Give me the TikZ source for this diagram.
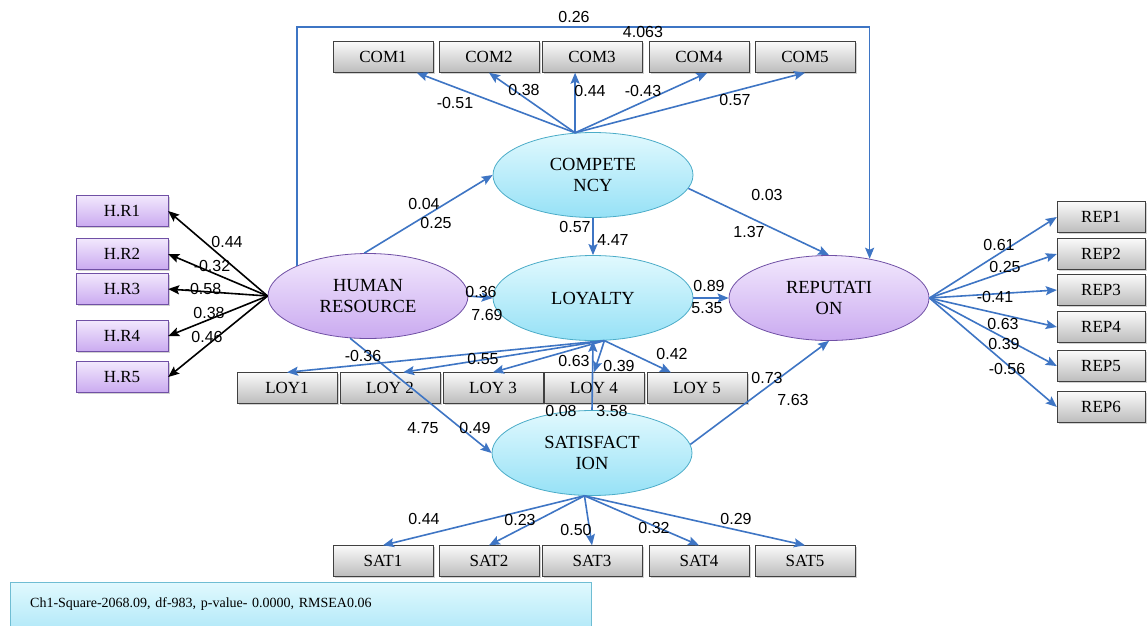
\documentclass[tikz,border=0pt]{standalone}
\usepackage{fontspec}
\setmainfont{Liberation Serif}
\newfontfamily\numfont{Liberation Sans}
\usetikzlibrary{arrows.meta,shapes.geometric,shadows}

\definecolor{arrblue}{RGB}{62,117,196}
\definecolor{lavtop}{RGB}{242,232,253}
\definecolor{lavbot}{RGB}{202,170,240}
\definecolor{lavline}{RGB}{112,80,165}
\definecolor{cyantop}{RGB}{225,249,254}
\definecolor{cyanbot}{RGB}{150,225,246}
\definecolor{cyanline}{RGB}{75,172,200}
\definecolor{greytop}{RGB}{250,250,250}
\definecolor{greybot}{RGB}{188,188,188}

\begin{document}
\begin{tikzpicture}[x=1pt, y=-1pt,
  item/.style={rectangle, draw=black!75, top color=greytop, bottom color=greybot,
    minimum width=100pt, minimum height=31pt, inner sep=0pt,
    font=\fontsize{17}{17}\selectfont,
    drop shadow={shadow xshift=1.5pt, shadow yshift=-1.5pt, opacity=0.35}},
  hrbox/.style={item, draw=lavline, top color=lavtop, bottom color=lavbot, minimum width=92pt},
  latent/.style={ellipse, draw=cyanline, line width=0.8pt, top color=cyantop, bottom color=cyanbot,
    minimum width=200pt, minimum height=85pt, inner sep=0pt, align=center,
    font=\fontsize{18.5}{21}\selectfont},
  purp/.style={draw=lavline, top color=lavtop, bottom color=lavbot},
  barr/.style={draw=arrblue, line width=1.6pt, -{Stealth[length=11pt,width=9pt,inset=2pt]}},
  darr/.style={draw=black, line width=1.6pt, -{Stealth[length=11pt,width=9pt,inset=2pt]}},
  lab/.style={font=\numfont\fontsize{16}{16}\selectfont, inner sep=0pt},
  note/.style={rectangle, draw=cyanline!80, top color=cyantop, bottom color=cyanbot!70,
    anchor=north west, text width=541pt, inner xsep=20pt, inner ysep=0pt,
    minimum height=44pt, align=left, font=\fontsize{14}{14}\selectfont}]

  \path[fill=white, use as bounding box] (0,0) rectangle (1147,625);

  % latent variables
  \node[latent, purp] (hrs) at (368,296) {HUMAN\\RESOURCE};
  \node[latent] (cmp) at (593,175) {COMPETE\\NCY};
  \node[latent] (loy) at (593,298) {LOYALTY};
  \node[latent] (sat) at (592,453) {SATISFACT\\ION};
  \node[latent, purp] (rep) at (829,298) {REPUTATI\\ON};

  % indicators
  \foreach\i/\x in {1/383,2/489,3/592,4/699,5/805}{
    \node[item] (com\i) at (\x,57) {COM\i};
    \node[item] (sat\i) at (\x,561) {SAT\i};
  }
  \foreach\i/\x/\t in {1/287/LOY1,2/390/LOY 2,3/493/LOY 3,4/594/LOY 4,5/697/LOY 5}
    \node[item] (loy\i) at (\x,388) {\t};
  \foreach\i/\y in {1/211,2/254,3/289,4/336,5/377}
    \node[hrbox] (hr\i) at (122,\y) {H.R\i};
  \foreach\i/\y in {1/217,2/254,3/290,4/327,5/366,6/407}
    \node[item, minimum width=88pt] (rep\i) at (1101,\y) {REP\i};

  % loadings
  \foreach\i in {1,...,5}
    \draw[darr] (hrs.west) -- (hr\i.east);
  \foreach\i in {1,...,6}
    \draw[barr] (rep.east) -- (rep\i.west);
  \foreach\i/\a in {1/-25,2/-90,4/-62,5/-90}
    \draw[barr] (cmp.113) -- (com\i.\a);
  \draw[barr] (cmp.113) -- (cmp.113 |- com3.south);
  \foreach\i/\a in {1/90,2/50,3/90,4/90,5/149}
    \draw[barr] (loy.-75) -- (loy\i.\a);
  \foreach\i in {1,...,5}
    \draw[barr] (sat.-100) -- (sat\i.north);

  % paths
  \draw[barr] (hrs.95) -- (cmp.west);
  \draw[barr] (hrs.east) -- (loy.west);
  \draw[barr] (hrs.-113) -- (sat.west);
  \draw[barr] (cmp.south) -- (loy.north);
  \draw[barr] (sat.north) -- (loy.south);
  \draw[barr] (cmp.-8) -- (rep.north);
  \draw[barr] (loy.east) -- (rep.west);
  \draw[barr] (sat.5) -- (rep.south);
  \coordinate (feedtop) at (580,27);
  \draw[barr] (hrs.157) |- (feedtop) -| (rep.44);

  % estimates
  \foreach\n/\x/\y/\t in {a1/574/17/0.26, a2/643/32/4.063,
      c1/455/103/-0.51, c2/524/90/0.38, c3/590/91/0.44, c4/643/91/-0.43, c5/735/100/0.57,
      h1/227/242/0.44, h2/212/266/-0.32, h3/203/289/-0.58, h4/209/313/0.38, h5/207/337/0.46,
      b1/424/204/0.04, b2/436/223/0.25, b3/575/227/0.57, b4/613/240/4.47,
      b5/767/195/0.03, b6/749/232/1.37, b7/481/292/0.36, b8/487/315/7.69,
      b9/709/286/0.89, b10/707/308/5.35, b11/363/356/-0.36, b12/423/428/4.75,
      b13/475/428/0.49, b14/561/411/0.08, b15/612/411/3.58, b16/767/378/0.73, b17/793/400/7.63,
      l1/483/359/0.55, l2/574/361/0.63, l3/619/366/0.39, l4/672/354/0.42,
      s1/424/519/0.44, s2/520/520/0.23, s3/576/530/0.50, s4/654/528/0.32, s5/736/519/0.29,
      r1/999/245/0.61, r2/1005/267/0.25, r3/995/297/-0.41, r4/1003/324/0.63,
      r5/1004/344/0.39, r6/1007/369/-0.56}
    \node[lab] (e\n) at (\x,\y) {\t};

  \node[note] (fitnote) at (10,582) {Ch1-Square-2068.09, df-983, p-value- 0.0000, RMSEA0.06};
\end{tikzpicture}
\end{document}
